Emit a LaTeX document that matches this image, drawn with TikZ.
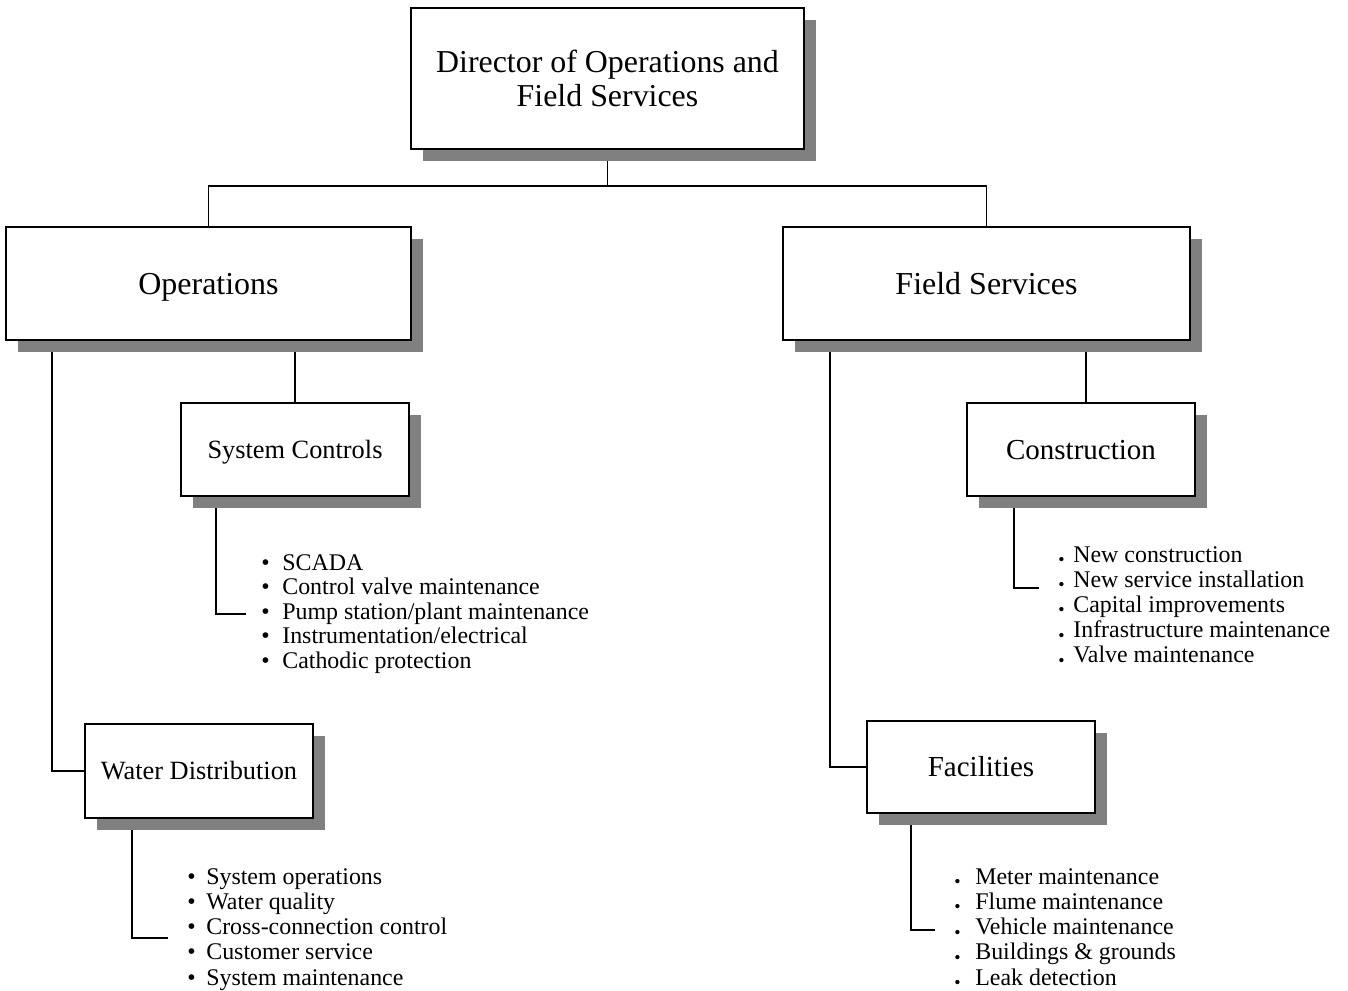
\documentclass[tikz,border=0pt]{standalone}
\usepackage{fontspec}
\setmainfont{Liberation Serif}
\usetikzlibrary{calc}
\usetikzlibrary{shadows}
\usetikzlibrary{backgrounds}
\newcommand{\smalldot}{\raisebox{-2pt}{\scalebox{0.75}{\textbullet}}}
\tikzset{
  unit/.style={draw,line width=1.1pt,fill=white,inner sep=0pt,align=center,
    drop shadow={shadow xshift=0.24cm,shadow yshift=-0.24cm,fill=black!50,opacity=1}},
  oneline/.style 2 args={text height=#1,text depth=#2},
  item/.style={anchor=base west,inner sep=0pt,font=\fontsize{13.6}{14}\selectfont},
  link/.style={line width=1.1pt}
}

\begin{document}
\begin{tikzpicture}[x=0.02cm,y=-0.02cm]
  \useasboundingbox (0,0) rectangle (1348,990);
  % boxes
  \node[unit,minimum width=7.86cm,minimum height=2.82cm,font=\fontsize{18.15}{19.4}\selectfont] (dir) at (607.5,78.5) {Director of Operations and\\Field Services};
  \node[unit,oneline={16.4pt}{4pt},minimum width=8.1cm,minimum height=2.26cm,font=\fontsize{18.2}{20}\selectfont] (ops) at (208.5,283.5) {Operations};
  \node[unit,oneline={16.4pt}{4pt},minimum width=8.14cm,minimum height=2.26cm,font=\fontsize{18.2}{20}\selectfont] (fs) at (986.5,283.5) {Field Services};
  \node[unit,oneline={13.5pt}{3.3pt},minimum width=4.56cm,minimum height=1.86cm,font=\fontsize{15}{17}\selectfont] (sc) at (295,449.5) {System Controls};
  \node[unit,oneline={13.5pt}{3.3pt},minimum width=4.56cm,minimum height=1.88cm,font=\fontsize{15}{17}\selectfont] (wd) at (199,771) {Water Distribution};
  \node[unit,oneline={14.9pt}{3.6pt},minimum width=4.56cm,minimum height=1.86cm,font=\fontsize{16.5}{18}\selectfont] (con) at (1081,449.5) {Construction};
  \node[unit,oneline={14.9pt}{3.6pt},minimum width=4.56cm,minimum height=1.84cm,font=\fontsize{16.5}{18}\selectfont] (fac) at (981,767) {Facilities};
  % duty lists
  \foreach \t [count=\i] in {SCADA,Control valve maintenance,{Pump station/plant maintenance},{Instrumentation/electrical},Cathodic protection}
    \node[item] (sc\i) at (261,{570+24.6*(\i-1)}) {\makebox[0.42cm][l]{\textbullet}\t};
  \foreach \t [count=\i] in {System operations,Water quality,Cross-connection control,Customer service,System maintenance}
    \node[item] (wd\i) at (187,{884+25.3*(\i-1)}) {\makebox[0.38cm][l]{\textbullet}\t};
  \foreach \t [count=\i] in {New construction,New service installation,Capital improvements,Infrastructure maintenance,Valve maintenance}
    \node[item] (con\i) at (1058,{562+25.2*(\i-1)}) {\makebox[0.3cm][l]{\smalldot}\t};
  \foreach \t [count=\i] in {Meter maintenance,Flume maintenance,Vehicle maintenance,Buildings \& grounds,Leak detection}
    \node[item] (fac\i) at (954,{884+25.3*(\i-1)}) {\makebox[0.42cm][l]{\smalldot}\t};
  % connectors
  \begin{scope}[on background layer]
    \coordinate (bar) at (610,186);
    \coordinate (conin) at ([xshift=0.1cm]con.north);
    \coordinate (scend) at (246,614);
    \coordinate (wdend) at (168,938);
    \coordinate (conend) at (1039,588);
    \coordinate (facend) at (935,930);
    \draw[link] (dir.south) -- (dir.south |- bar);
    \draw[link] (ops.north) -- (ops.north |- bar) -- (fs.north |- bar) -- (fs.north);
    \draw[link] (ops.south -| sc.north) -- (sc.north);
    \draw[link] ($(ops.south west)+(47,0)$) |- (wd.west);
    \draw[link] (conin |- fs.south) -- (conin);
    \draw[link] ($(fs.south west)+(48,0)$) |- (fac.west);
    \draw[link] ($(sc.south west)+(36,0)$) |- (scend);
    \draw[link] ($(wd.south west)+(48,0)$) |- (wdend);
    \draw[link] ($(con.south west)+(48,0)$) |- (conend);
    \draw[link] ($(fac.south west)+(45,0)$) |- (facend);
  \end{scope}
\end{tikzpicture}
\end{document}
